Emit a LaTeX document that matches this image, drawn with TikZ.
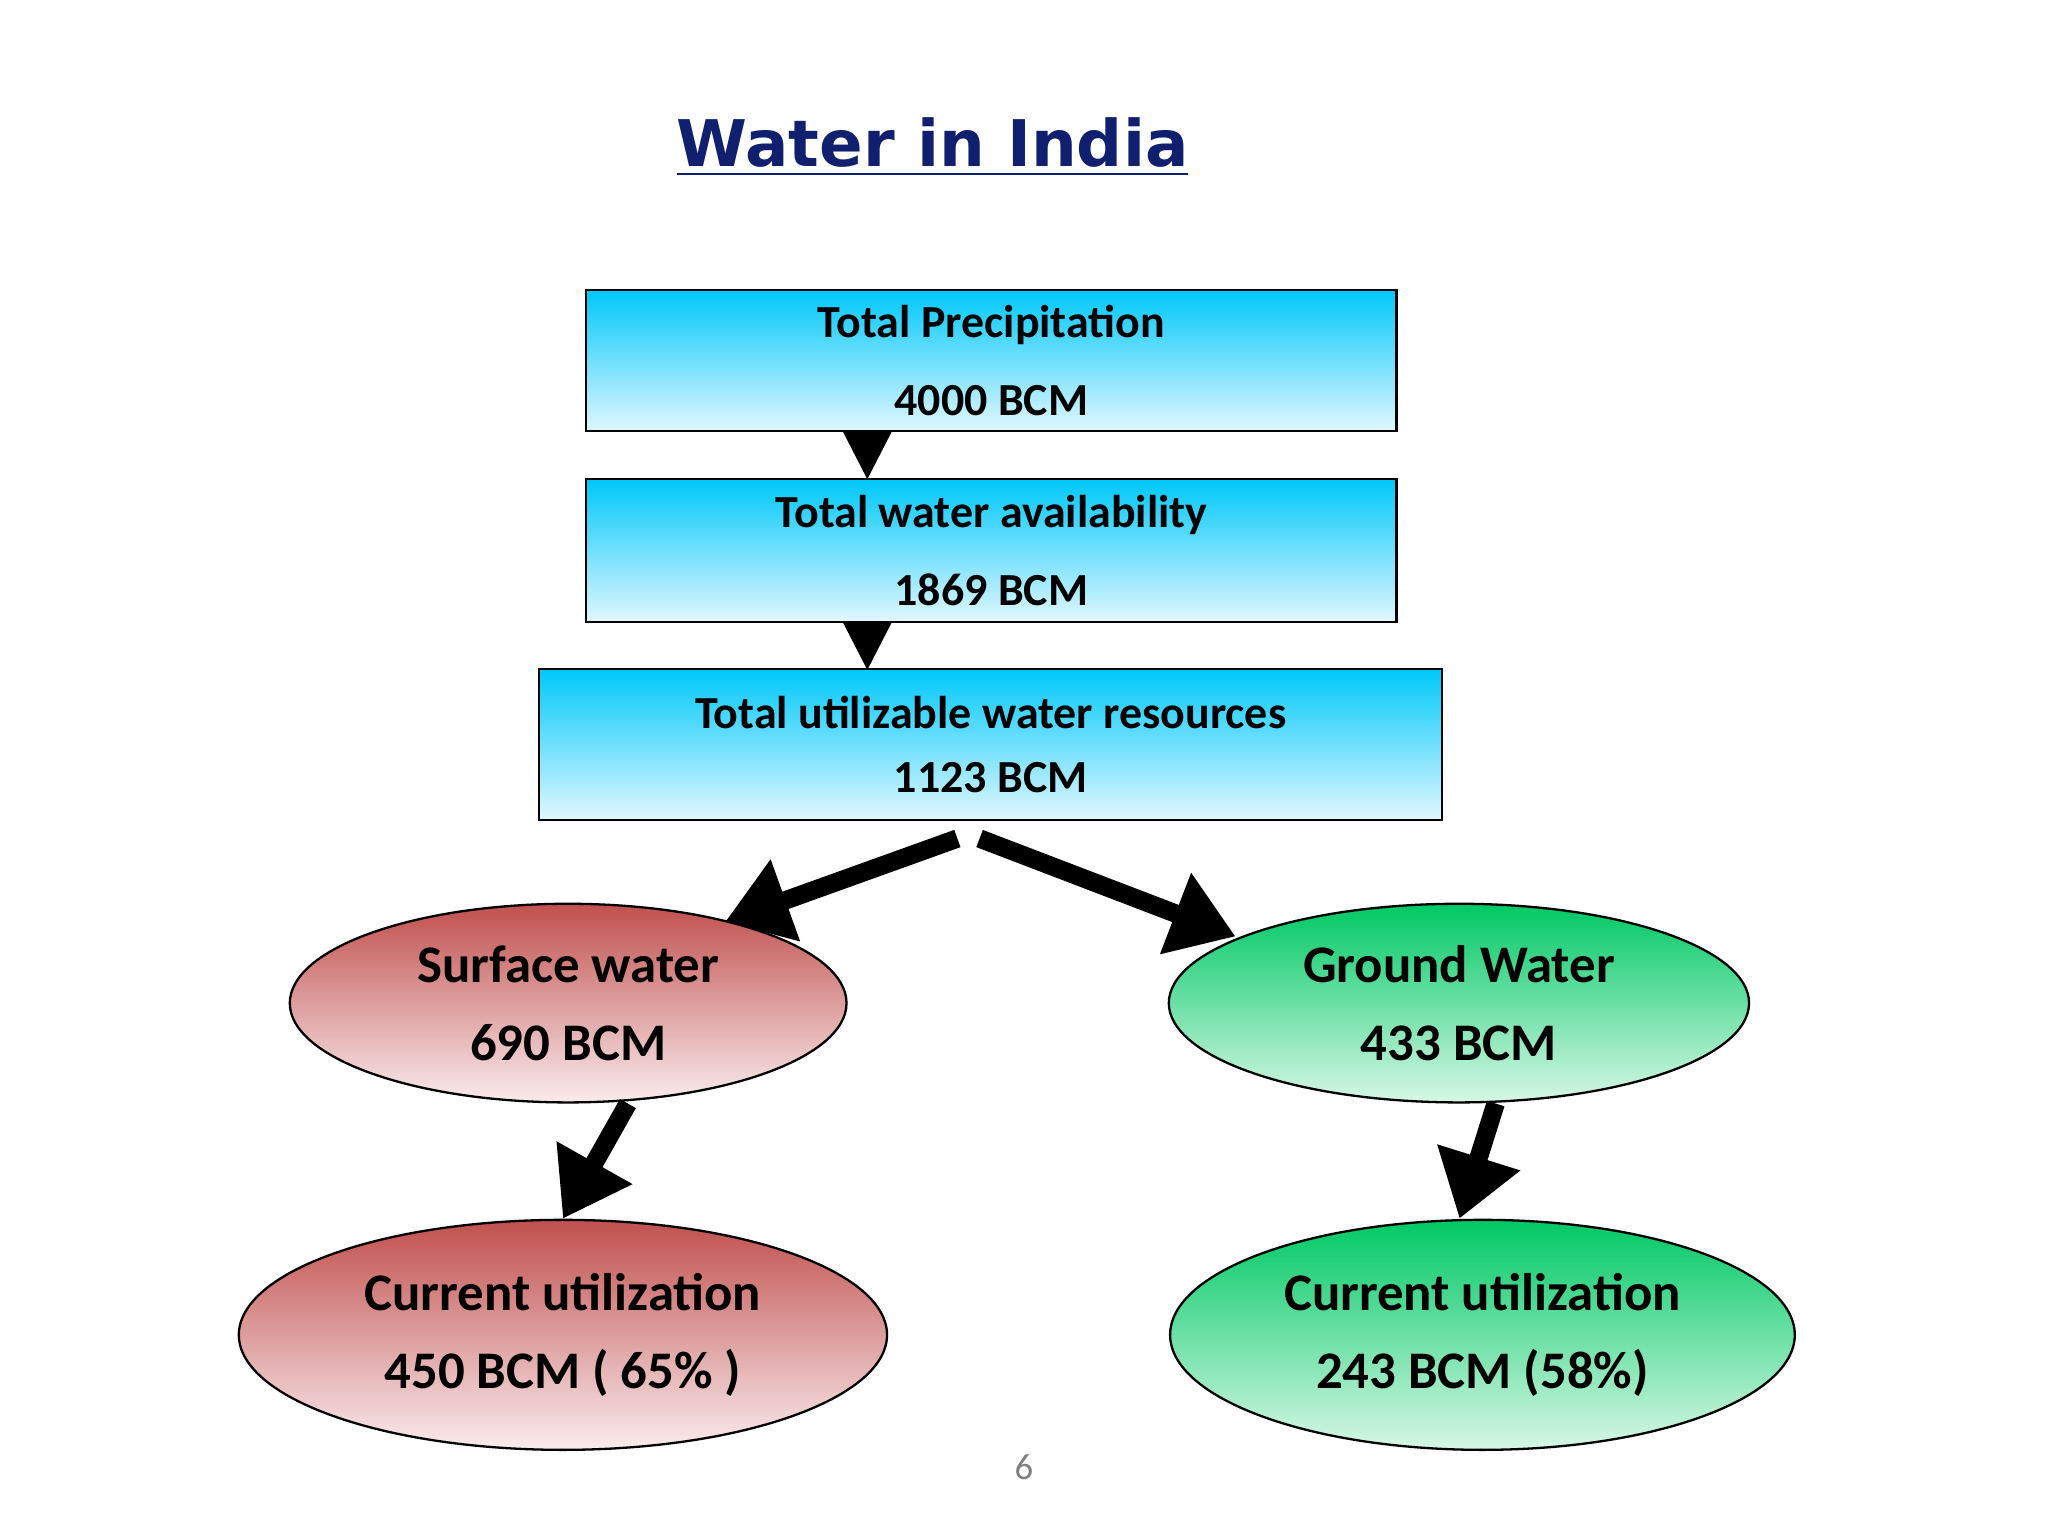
\documentclass[tikz,border=0pt]{standalone}
\usepackage{fontspec}
\setmainfont{Carlito}
\newfontfamily\titlefont{DejaVu Sans}
\usetikzlibrary{shapes.geometric,arrows.meta}
\definecolor{cyantop}{RGB}{0,200,250}
\definecolor{cyanbot}{RGB}{225,247,255}
\definecolor{redtop}{RGB}{192,80,77}
\definecolor{redbot}{RGB}{250,235,238}
\definecolor{greentop}{RGB}{0,200,100}
\definecolor{greenbot}{RGB}{215,247,230}
\definecolor{titleblue}{RGB}{16,32,110}
\begin{document}
\begin{tikzpicture}[x=0.01cm,y=-0.01cm,
  box/.style={draw=black,line width=0.5pt,rectangle,top color=cyantop,bottom color=cyanbot,align=center,font=\bfseries\fontsize{10}{17}\selectfont,inner sep=0pt},
  ell/.style={draw=black,line width=0.5pt,ellipse,align=center,inner sep=0pt,font=\bfseries\fontsize{11.5}{17}\selectfont},
  red/.style={ell,top color=redtop,bottom color=redbot},
  green/.style={ell,top color=greentop,bottom color=greenbot},
  tri/.style={fill=black},
  thick arrow/.style={line width=4pt,-{Triangle[length=14pt,width=18pt]}}]
\useasboundingbox[fill=white] (0,0) rectangle (1568,1176);
\node[font=\titlefont\bfseries\fontsize{14}{16}\selectfont,text=titleblue] (title) at (714,113) {\underline{Water in India}};
\node[box,minimum width=6.2cm,minimum height=1.08cm] (b1) at (759,276) {Total Precipitation\\4000 BCM};
\node[box,minimum width=6.2cm,minimum height=1.09cm] (b2) at (759,421.5) {Total water availability\\1869 BCM};
\node[box,minimum width=6.91cm,minimum height=1.16cm,font=\bfseries\fontsize{10}{14}\selectfont] (b3) at (758.5,570) {Total utilizable water resources\\1123 BCM};
\fill[tri] ([xshift=-27]b1.south) ++(-19,-1) -- ++(38,0) -- ++(-19,37) -- cycle;
\fill[tri] ([xshift=-27]b2.south) ++(-19,-1) -- ++(38,0) -- ++(-19,37) -- cycle;
\node[red,minimum width=4.26cm,minimum height=1.52cm] (sw) at (435,768) {Surface water\\690 BCM};
\node[green,minimum width=4.44cm,minimum height=1.52cm] (gw) at (1117,768) {Ground Water\\433 BCM};
\node[red,minimum width=4.96cm,minimum height=1.76cm] (cul) at (431,1022) {Current utilization\\450 BCM ( 65\% )};
\node[green,minimum width=4.78cm,minimum height=1.76cm] (cur) at (1135,1022) {Current utilization\\243 BCM (58\%)};
\coordinate (s1) at (733,642); \coordinate (s2) at (750,642);
\draw[thick arrow] (s1) -- (555,706);
\draw[thick arrow] (s2) -- (946,717);
\draw[thick arrow] ([xshift=13]sw.south) -- (cul.north);
\draw[thick arrow] ([xshift=8]gw.south) -- ([xshift=-5]cur.north);
\node[text=gray,font=\fontsize{8}{10}\selectfont] (pg) at (784,1123) {6};
\end{tikzpicture}
\end{document}
